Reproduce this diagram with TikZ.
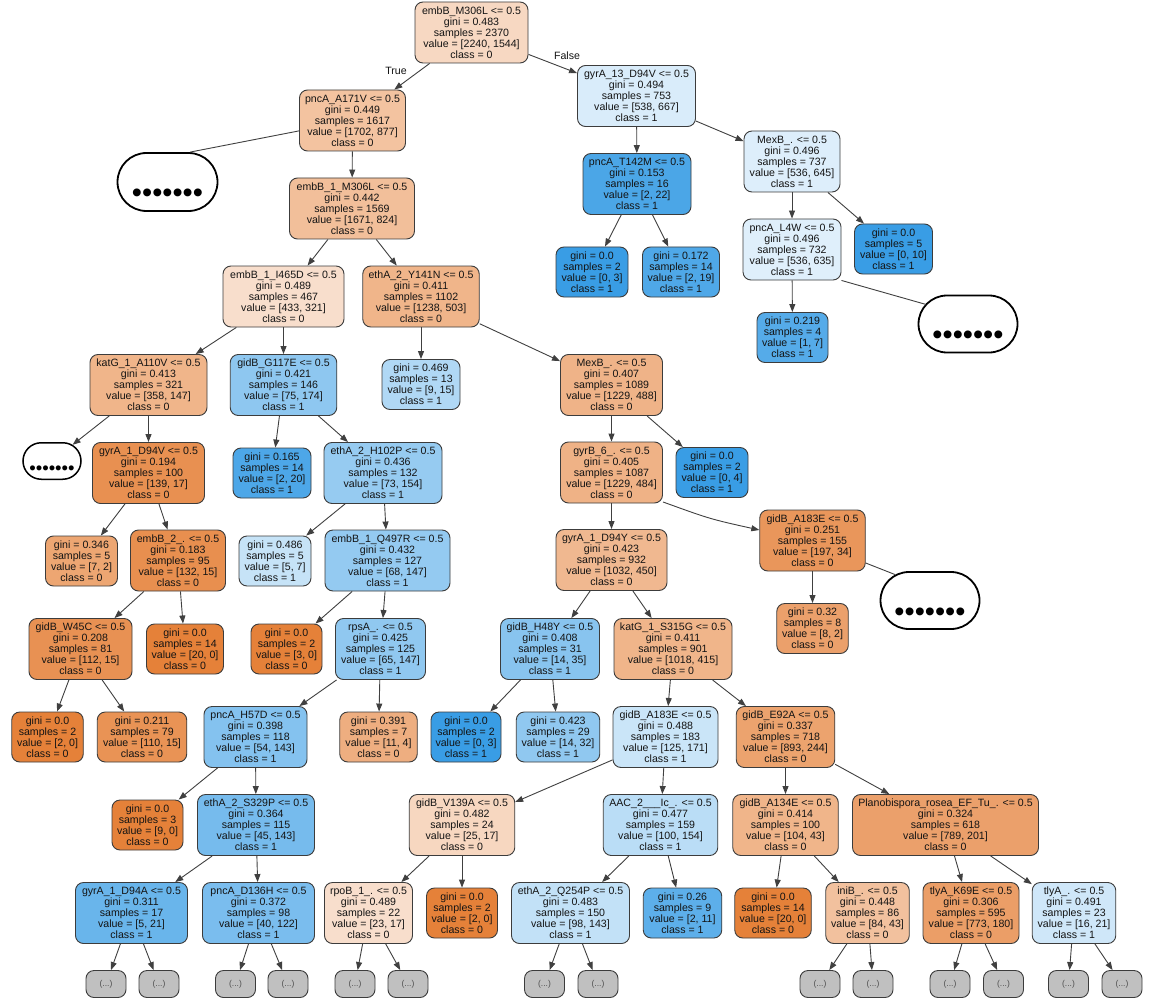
\documentclass[tikz,border=0pt]{standalone}
\usepackage{fontspec}
\setmainfont{Liberation Sans}
\usetikzlibrary{arrows.meta,shapes.misc,calc}

% class colours (class 0 orange, class 1 blue), mixed with white by purity
\definecolor{clsA}{RGB}{229,129,57}
\definecolor{clsB}{RGB}{57,157,229}
\definecolor{rim}{RGB}{60,60,60}
\definecolor{wire}{RGB}{64,64,64}
\definecolor{stubfill}{RGB}{192,192,192}
\definecolor{ink}{RGB}{20,20,20}

\begin{document}
\begin{tikzpicture}[x=1pt,y=-1pt,
  box/.style={draw=rim, line width=0.9pt, rounded corners=8pt, align=center,
    inner xsep=1pt, inner ysep=1pt, text=ink, font=\fontsize{10.6}{11}\selectfont},
  split/.style={box, minimum height=61pt},
  leaf/.style={box, minimum height=50pt},
  zero/.style={fill=clsA!#1},
  one/.style={fill=clsB!#1},
  wd/.style={minimum width=#1pt},
  stub/.style={draw=rim, line width=0.9pt, fill=stubfill, rounded corners=8pt,
    minimum width=40pt, minimum height=27pt, inner sep=1pt,
    text=ink!75, font=\fontsize{8.5}{9}\selectfont},
  more/.style={rounded rectangle, draw=black, line width=1.8pt, fill=white,
    minimum width=101pt, minimum height=57pt, inner sep=1pt,
    font=\fontsize{29}{29}\selectfont, text height=41pt, text depth=0pt},
  moresmall/.style={rounded rectangle, draw=black, line width=1.5pt, fill=white,
    minimum width=60pt, minimum height=36.5pt, inner sep=1pt,
    font=\fontsize{18.5}{18.5}\selectfont, text height=26pt, text depth=0pt},
  link/.style={draw=wire, line width=0.9pt, -{Triangle[length=8pt,width=6pt]}},
  linkplain/.style={draw=wire, line width=0.9pt},
  lbl/.style={text=ink, font=\fontsize{10.6}{11}\selectfont, inner sep=0pt}
]
\fill[white] (0,0) rectangle (1150,1000);
\useasboundingbox (0,0) rectangle (1150,1000);

% ---- level 0 / 1
\node[split, zero=31, wd=113] (A) at (471.5,32.5) {embB\_M306L <= 0.5\\gini = 0.483\\samples = 2370\\value = [2240, 1544]\\class = 0};
\node[split, zero=48, wd=106] (B) at (352.5,120.5) {pncA\_A171V <= 0.5\\gini = 0.449\\samples = 1617\\value = [1702, 877]\\class = 0};
\node[split, one=19, wd=118] (C) at (636.5,96) {gyrA\_13\_D94V <= 0.5\\gini = 0.494\\samples = 753\\value = [538, 667]\\class = 1};
\node[more, minimum width=102pt, minimum height=58pt] (L1) at (167.5,182) {•••••••};

% ---- right branch
\node[split, one=91, wd=108] (E) at (637,184) {pncA\_T142M <= 0.5\\gini = 0.153\\samples = 16\\value = [2, 22]\\class = 1};
\node[split, one=17, wd=96] (F) at (792,161.5) {MexB\_. <= 0.5\\gini = 0.496\\samples = 737\\value = [536, 645]\\class = 1};
\node[leaf, one=100, wd=72] (G) at (592,272) {gini = 0.0\\samples = 2\\value = [0, 3]\\class = 1};
\node[leaf, one=89, wd=77] (H) at (681,272) {gini = 0.172\\samples = 14\\value = [2, 19]\\class = 1};
\node[split, one=16, wd=98] (I) at (792,249.5) {pncA\_L4W <= 0.5\\gini = 0.496\\samples = 732\\value = [536, 635]\\class = 1};
\node[leaf, one=100, wd=78] (J) at (893.5,249) {gini = 0.0\\samples = 5\\value = [0, 10]\\class = 1};
\node[leaf, one=86, wd=71] (K) at (792.5,337.5) {gini = 0.219\\samples = 4\\value = [1, 7]\\class = 1};
\node[more] (Lr) at (968,324) {•••••••};

% ---- left branch
\node[split, zero=51, wd=125] (D) at (352,208.5) {embB\_1\_M306L <= 0.5\\gini = 0.442\\samples = 1569\\value = [1671, 824]\\class = 0};
\node[split, zero=26, wd=121] (M) at (283.5,296.5) {embB\_1\_I465D <= 0.5\\gini = 0.489\\samples = 467\\value = [433, 321]\\class = 0};
\node[split, zero=59, wd=116.5] (N) at (421,296.5) {ethA\_2\_Y141N <= 0.5\\gini = 0.411\\samples = 1102\\value = [1238, 503]\\class = 0};
\node[split, zero=59, wd=117] (O) at (148.5,385) {katG\_1\_A110V <= 0.5\\gini = 0.413\\samples = 321\\value = [358, 147]\\class = 0};
\node[split, one=57, wd=106.5] (P) at (283.5,385) {gidB\_G117E <= 0.5\\gini = 0.421\\samples = 146\\value = [75, 174]\\class = 1};
\node[leaf, one=40, wd=78] (Q) at (421,384.5) {gini = 0.469\\samples = 13\\value = [9, 15]\\class = 1};
\node[split, zero=60, wd=102] (R) at (611.5,385) {MexB\_. <= 0.5\\gini = 0.407\\samples = 1089\\value = [1229, 488]\\class = 0};
\node[moresmall] (S) at (52,461) {•••••••};
\node[split, zero=88, wd=112] (T) at (148.5,473) {gyrA\_1\_D94V <= 0.5\\gini = 0.194\\samples = 100\\value = [139, 17]\\class = 0};
\node[leaf, one=90, wd=78] (U) at (272,473) {gini = 0.165\\samples = 14\\value = [2, 20]\\class = 1};
\node[split, one=53, wd=118] (V) at (383,473) {ethA\_2\_H102P <= 0.5\\gini = 0.436\\samples = 132\\value = [73, 154]\\class = 1};
\node[split, zero=61, wd=102] (W) at (611.5,472.5) {gyrB\_6\_. <= 0.5\\gini = 0.405\\samples = 1087\\value = [1229, 484]\\class = 0};
\node[leaf, one=100, wd=72] (X) at (712,472.5) {gini = 0.0\\samples = 2\\value = [0, 4]\\class = 1};
\node[leaf, zero=71, wd=72] (Y) at (81.5,561) {gini = 0.346\\samples = 5\\value = [7, 2]\\class = 0};
\node[split, zero=89, wd=95] (Z) at (178,560.5) {embB\_2\_. <= 0.5\\gini = 0.183\\samples = 95\\value = [132, 15]\\class = 0};
\node[leaf, one=29, wd=72] (AA) at (275,561) {gini = 0.486\\samples = 5\\value = [5, 7]\\class = 1};
\node[split, one=54, wd=125] (AB) at (387.5,560.5) {embB\_1\_Q497R <= 0.5\\gini = 0.432\\samples = 127\\value = [68, 147]\\class = 1};
\node[split, zero=56, wd=111] (AC) at (611.5,560) {gyrA\_1\_D94Y <= 0.5\\gini = 0.423\\samples = 932\\value = [1032, 450]\\class = 0};
\node[split, zero=83, wd=105.5] (AD) at (812.5,540.5) {gidB\_A183E <= 0.5\\gini = 0.251\\samples = 155\\value = [197, 34]\\class = 0};
\node[more] (AE) at (930,600.5) {•••••••};
\node[split, zero=87, wd=103] (AF) at (80.5,649) {gidB\_W45C <= 0.5\\gini = 0.208\\samples = 81\\value = [112, 15]\\class = 0};
\node[leaf, zero=100, wd=77] (AG) at (185,649) {gini = 0.0\\samples = 14\\value = [20, 0]\\class = 0};
\node[leaf, zero=100, wd=71] (AH) at (286.5,649) {gini = 0.0\\samples = 2\\value = [3, 0]\\class = 0};
\node[split, one=56, wd=90] (AI) at (380.5,649) {rpsA\_. <= 0.5\\gini = 0.425\\samples = 125\\value = [65, 147]\\class = 1};
\node[leaf, zero=75, wd=71.5] (AJ) at (812.5,628.5) {gini = 0.32\\samples = 8\\value = [8, 2]\\class = 0};
\node[split, one=60, wd=99] (AK) at (550,649) {gidB\_H48Y <= 0.5\\gini = 0.408\\samples = 31\\value = [14, 35]\\class = 1};
\node[split, zero=59, wd=118] (AL) at (673,649) {katG\_1\_S315G <= 0.5\\gini = 0.411\\samples = 901\\value = [1018, 415]\\class = 0};
\node[leaf, zero=100, wd=71.5] (AM) at (47.5,737) {gini = 0.0\\samples = 2\\value = [2, 0]\\class = 0};
\node[leaf, zero=86, wd=89.5] (AN) at (142,737) {gini = 0.211\\samples = 79\\value = [110, 15]\\class = 0};
\node[split, one=62, wd=103] (AO) at (255.5,737) {pncA\_H57D <= 0.5\\gini = 0.398\\samples = 118\\value = [54, 143]\\class = 1};
\node[leaf, zero=64, wd=77.5] (AP) at (378.5,737) {gini = 0.391\\samples = 7\\value = [11, 4]\\class = 0};
\node[leaf, one=100, wd=70] (AQ) at (466,737) {gini = 0.0\\samples = 2\\value = [0, 3]\\class = 1};
\node[leaf, one=56, wd=83.5] (AR) at (558,737) {gini = 0.423\\samples = 29\\value = [14, 32]\\class = 1};
\node[split, one=27, wd=105] (AS) at (665.5,737) {gidB\_A183E <= 0.5\\gini = 0.488\\samples = 183\\value = [125, 171]\\class = 1};
\node[split, zero=73, wd=98.5] (AT) at (785.5,737) {gidB\_E92A <= 0.5\\gini = 0.337\\samples = 718\\value = [893, 244]\\class = 0};
\node[leaf, zero=100, wd=71] (AU) at (147.5,825) {gini = 0.0\\samples = 3\\value = [9, 0]\\class = 0};
\node[split, one=69, wd=117] (AV) at (256,825) {ethA\_2\_S329P <= 0.5\\gini = 0.364\\samples = 115\\value = [45, 143]\\class = 1};
\node[split, zero=32, wd=105.5] (AW) at (462,825) {gidB\_V139A <= 0.5\\gini = 0.482\\samples = 24\\value = [25, 17]\\class = 0};
\node[split, one=35, wd=114.5] (AX) at (660.5,825) {AAC\_2\_\_\_Ic\_. <= 0.5\\gini = 0.477\\samples = 159\\value = [100, 154]\\class = 1};
\node[split, zero=59, wd=105.5] (AY) at (785.5,825) {gidB\_A134E <= 0.5\\gini = 0.414\\samples = 100\\value = [104, 43]\\class = 0};
\node[split, zero=75, wd=186] (AZ) at (945.5,825) {Planobispora\_rosea\_EF\_Tu\_. <= 0.5\\gini = 0.324\\samples = 618\\value = [789, 201]\\class = 0};
\node[split, one=76, wd=112] (BA) at (131.5,913) {gyrA\_1\_D94A <= 0.5\\gini = 0.311\\samples = 17\\value = [5, 21]\\class = 1};
\node[split, one=67, wd=112] (BB) at (258.5,913) {pncA\_D136H <= 0.5\\gini = 0.372\\samples = 98\\value = [40, 122]\\class = 1};
\node[split, zero=26, wd=88] (BC) at (368.5,913) {rpoB\_1\_. <= 0.5\\gini = 0.489\\samples = 22\\value = [23, 17]\\class = 0};
\node[leaf, zero=100, wd=71] (BD) at (462,913) {gini = 0.0\\samples = 2\\value = [2, 0]\\class = 0};
\node[split, one=31, wd=118] (BE) at (570.5,913) {ethA\_2\_Q254P <= 0.5\\gini = 0.483\\samples = 150\\value = [98, 143]\\class = 1};
\node[leaf, one=82, wd=78.5] (BF) at (682.5,913) {gini = 0.26\\samples = 9\\value = [2, 11]\\class = 1};
\node[leaf, zero=100, wd=76.5] (BG) at (773,913) {gini = 0.0\\samples = 14\\value = [20, 0]\\class = 0};
\node[split, zero=49, wd=83.5] (BH) at (867.5,913) {iniB\_. <= 0.5\\gini = 0.448\\samples = 86\\value = [84, 43]\\class = 0};
\node[split, zero=77, wd=96] (BI) at (971,913) {tlyA\_K69E <= 0.5\\gini = 0.306\\samples = 595\\value = [773, 180]\\class = 0};
\node[split, one=24, wd=83.5] (BJ) at (1074,913) {tlyA\_. <= 0.5\\gini = 0.491\\samples = 23\\value = [16, 21]\\class = 1};

% ---- truncated subtrees
\foreach \n/\x in {s1/106, s2/159, s3/235.5, s4/288, s5/355, s6/408, s7/544.5,
                   s8/598, s9/820, s10/873, s11/950, s12/1003.5, s13/1068.5, s14/1122}
  \node[stub] (\n) at (\x,984) {(...)};

% ---- branch labels
\node[lbl] (tt) at (396,71) {True};
\node[lbl] (ff) at (567,56) {False};

% ---- connectors
\foreach \p/\c in {A/B, A/C, B/D, C/E, C/F, D/M, D/N, E/G, E/H, F/I, F/J, I/K,
                   M/O, M/P, N/Q, N/R, O/S, O/T, P/U, P/V, R/W, R/X,
                   T/Y, T/Z, V/AA, V/AB, W/AC, AD/AJ, Z/AF, Z/AG, AB/AH, AB/AI,
                   AC/AK, AC/AL, AF/AM, AF/AN, AI/AO, AI/AP, AK/AQ, AK/AR,
                   AL/AS, AL/AT, AO/AU, AO/AV, AS/AW, AS/AX, AT/AY, AT/AZ,
                   AV/BA, AV/BB, AW/BC, AW/BD, AX/BE, AX/BF, AY/BG, AY/BH,
                   AZ/BI, AZ/BJ,
                   BA/s1, BA/s2, BB/s3, BB/s4, BC/s5, BC/s6, BE/s7, BE/s8,
                   BH/s9, BH/s10, BI/s11, BI/s12, BJ/s13, BJ/s14}
  \draw[link] (\p) -- (\c);

\draw[link] ($(W.south east)+(0,-1.5)$) .. controls (710,519) .. ($(AD.west)+(0,-10.5)$);

% connectors into the elided parts
\draw[linkplain] (B) -- ($(L1.north)+(22.6,0)$);
\draw[linkplain] (I.south east) -- ($(Lr.center)+(-42.2,-19.6)$);
\draw[linkplain] ($(AD.east)+(0,22.5)$) -- ($(AE.center)+(-34.6,-25.8)$);
\end{tikzpicture}
\end{document}
